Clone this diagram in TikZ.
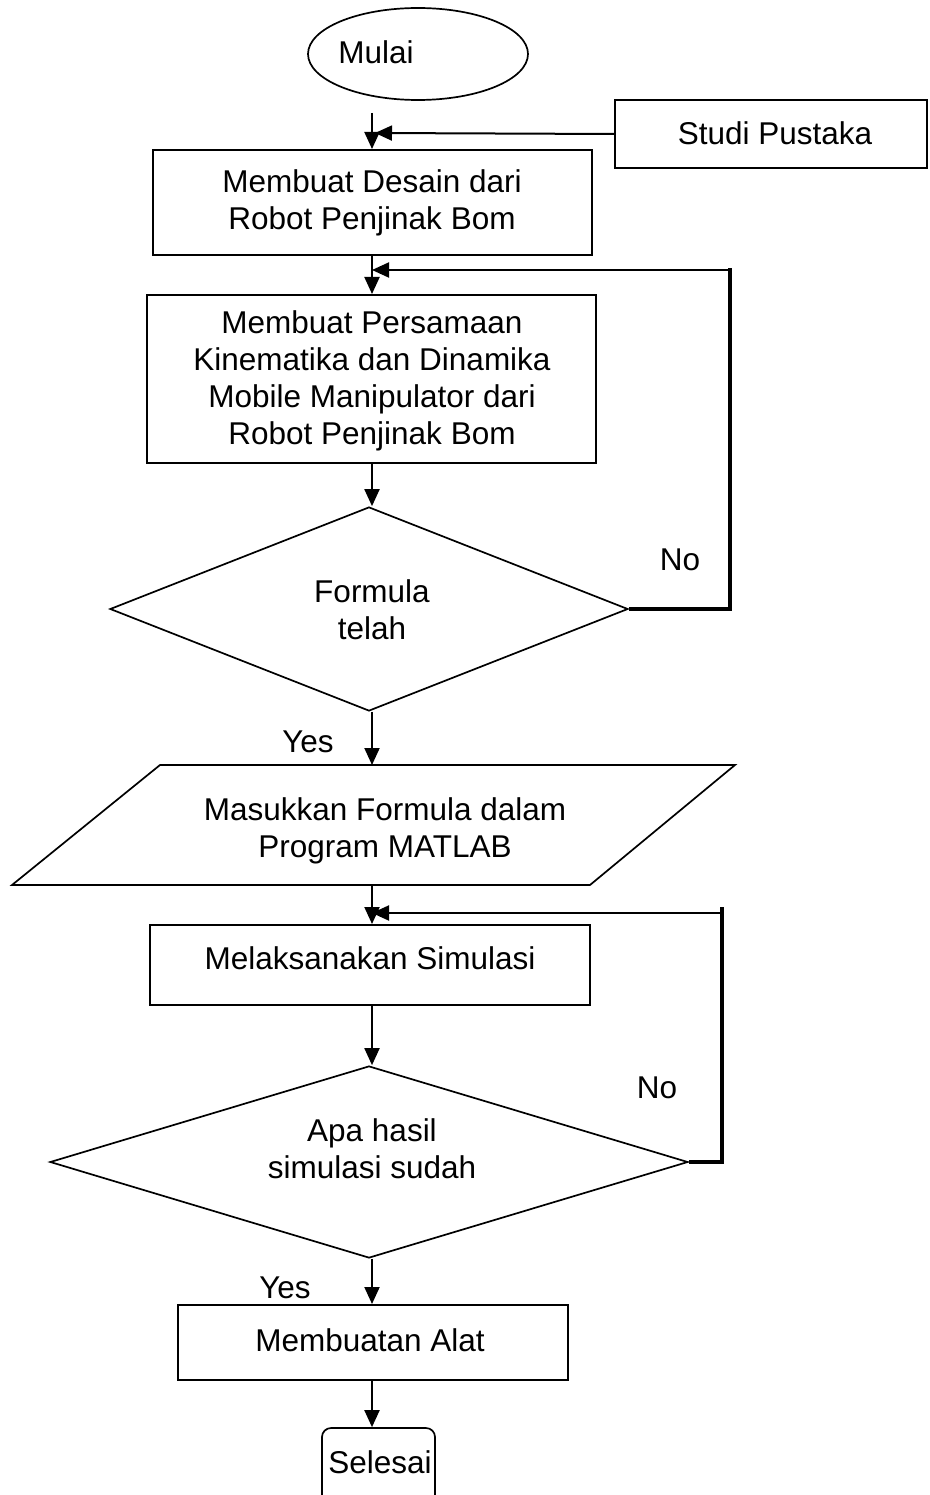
\documentclass[tikz,border=0pt]{standalone}
\usepackage{fontspec}
\setmainfont{Liberation Sans}
\usetikzlibrary{arrows.meta,shapes.geometric}
\begin{document}
\begin{tikzpicture}[x=1pt,y=-1pt,
  txt/.style={font=\fontsize{31.5}{37}\selectfont, inner sep=0pt, align=center},
  shapebox/.style={draw, line width=2pt, rectangle, inner sep=0pt},
  outline/.style={draw, line width=1.7pt, inner sep=0pt},
  flow/.style={line width=2pt, -{Triangle[length=17pt,width=15pt]}},
  loopline/.style={line width=4pt},
]
\useasboundingbox (0,0) rectangle (929,1495);
\clip (0,0) rectangle (929,1495);

% start and literature study
\node[outline, ellipse, minimum width=220pt, minimum height=92pt] (start) at (418,54) {};
\node[txt] (startT) at (376,52) {Mulai};
\node[shapebox, minimum width=312pt, minimum height=68pt] (studi) at (771,134) {};
\node[txt] (studiT) at (775,133) {Studi Pustaka};
\coordinate (s0) at (372,113);
\coordinate (j0) at (375,133);

% design and equations
\node[shapebox, minimum width=439pt, minimum height=105pt] (desain) at (372.5,202.5) {};
\node[txt] (desainT) at (372,203) {Membuat Desain dari\\Robot Penjinak Bom};
\node[shapebox, minimum width=449pt, minimum height=168pt] (persamaan) at (371.5,379) {};
\node[txt] (persamaanT) at (372,381) {Membuat Persamaan\\Kinematika dan Dinamika\\Mobile Manipulator dari\\Robot Penjinak Bom};

% first decision
\node[outline, diamond, minimum width=518pt, minimum height=204pt] (cek1) at (369,609) {};
\node[txt] (cek1T) at (372,610) {Formula\\telah};
\node[txt] (no1) at (680,560) {No};
\node[txt] (yes1) at (308,742) {Yes};

% input to MATLAB
\coordinate (pTL) at (160,765);
\coordinate (pTR) at (735,765);
\coordinate (pBR) at (590,885);
\coordinate (pBL) at (12,885);
\draw[line width=1.7pt] (pTL) -- (pTR) -- (pBR) -- (pBL) -- cycle;
\coordinate (pTop) at (372,765);
\coordinate (pBot) at (372,885);
\node[txt] (matlabT) at (385,831) {Masukkan Formula dalam\\Program MATLAB};

% simulation
\node[shapebox, minimum width=440pt, minimum height=80pt] (simulasi) at (370,965) {};
\node[txt] (simulasiT) at (370,958) {Melaksanakan Simulasi};

% second decision
\node[outline, diamond, minimum width=638pt, minimum height=192pt] (cek2) at (369,1162) {};
\node[txt] (cek2T) at (372,1149) {Apa hasil\\simulasi sudah};
\node[txt] (no2) at (657,1088) {No};
\node[txt] (yes2) at (285,1288) {Yes};

% build and finish
\node[shapebox, minimum width=390pt, minimum height=75pt] (alat) at (373,1342.5) {};
\node[txt] (alatT) at (370,1340) {Membuatan Alat};
\node[outline, rounded corners=9pt, minimum width=113pt, minimum height=90pt] (selesai) at (378.5,1473) {};
\node[txt] (selesaiT) at (380,1462) {Selesai};

% main flow
\draw[flow] (s0) -- (desain.north -| s0);
\draw[flow] (studi.west) -- (j0);
\draw[flow] (desain.south -| s0) -- (persamaan.north -| s0);
\draw[flow] (persamaan.south -| s0) -- (cek1.north -| s0);
\draw[flow] (cek1.south -| s0) -- (pTop);
\draw[flow] (pBot) -- (simulasi.north -| s0);
\draw[flow] (simulasi.south -| s0) -- (cek2.north -| s0);
\draw[flow] (cek2.south -| s0) -- (alat.north -| s0);
\draw[flow] (alat.south -| s0) -- (selesai.north -| s0);

% feedback loops
\coordinate (r1t) at (730,268);
\coordinate (j1) at (372,270);
\draw[loopline] (cek1.east) -- (cek1.east -| r1t) -- (r1t);
\draw[flow] (r1t |- j1) -- (j1);
\coordinate (r2t) at (722,907);
\coordinate (j2) at (372,913);
\draw[loopline] (cek2.east) -- (cek2.east -| r2t) -- (r2t);
\draw[flow] (r2t |- j2) -- (j2);
\end{tikzpicture}
\end{document}
